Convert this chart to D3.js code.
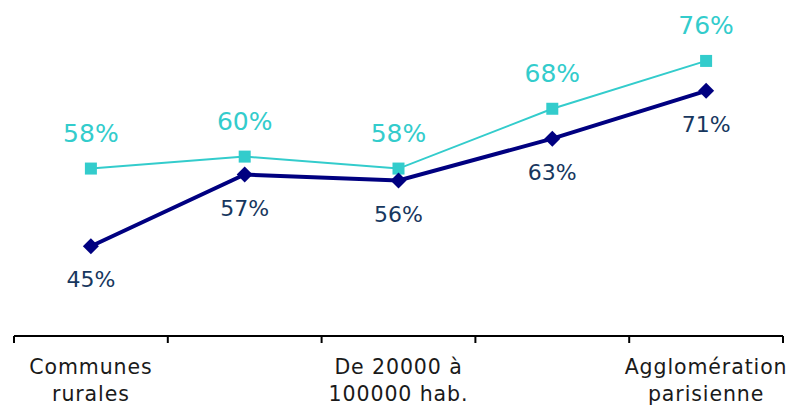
<!DOCTYPE html>
<html>
<head>
<meta charset="utf-8">
<script src="https://cdn.jsdelivr.net/npm/d3@7"></script>
<style>
body { margin: 0; background: #fff; }
svg { display: block; font-family: "DejaVu Sans", Verdana, sans-serif; }
</style>
</head>
<body>
<div id="chart"></div>
<script>
// categories (only 1st, 3rd and 5th labelled on the axis)
let categories = ["c1", "c2", "c3", "c4", "c5"];
let tick_labels = [["Communes", "rurales"], [], ["De 20000 à", "100000 hab."], [], ["Agglomération", "parisienne"]];
let serie_cyan = [58, 60, 58, 68, 76];
let serie_navy = [45, 57, 56, 63, 71];

let width = 796, height = 406;

let svg = d3.select("#chart").append("svg")
    .attr("width", width)
    .attr("height", height);

let x = d3.scaleBand().domain(categories).range([14, 783]);
let y = d3.scaleLinear().domain([30, 80]).range([336, 37]);

let cx = d => x(d) + x.bandwidth() / 2;

// axis
let axis = svg.append("g").attr("transform", "translate(0,336)");
axis.append("line")
    .attr("x1", 14).attr("x2", 783)
    .attr("stroke", "#000").attr("stroke-width", 2);
axis.selectAll("line.tick")
    .data(d3.range(categories.length + 1))
    .join("line")
    .attr("class", "tick")
    .attr("x1", i => 14 + i * x.step()).attr("x2", i => 14 + i * x.step())
    .attr("y1", 0).attr("y2", 7)
    .attr("stroke", "#000").attr("stroke-width", 2);

let lab = axis.selectAll("text.lab")
    .data(categories)
    .join("text")
    .attr("class", "lab")
    .attr("x", d => cx(d))
    .attr("y", 38)
    .attr("text-anchor", "middle")
    .attr("font-size", 20.5)
    .attr("letter-spacing", 0.9)
    .attr("fill", "#1a1a1a");
lab.selectAll("tspan")
    .data((d, i) => tick_labels[i])
    .join("tspan")
    .attr("x", function() { return this.parentNode.getAttribute("x"); })
    .attr("dy", (d, i) => i == 0 ? 0 : 27)
    .text(d => d);

let line = d3.line().x((d, i) => cx(categories[i])).y(d => y(d));

// cyan series
svg.append("path")
    .datum(serie_cyan)
    .attr("d", line)
    .attr("fill", "none")
    .attr("stroke", "#33cccc")
    .attr("stroke-width", 2);

// navy series
svg.append("path")
    .datum(serie_navy)
    .attr("d", line)
    .attr("fill", "none")
    .attr("stroke", "#000080")
    .attr("stroke-width", 4);

svg.append("g").selectAll("rect")
    .data(serie_cyan)
    .join("rect")
    .attr("x", (d, i) => cx(categories[i]) - 6)
    .attr("y", d => y(d) - 6)
    .attr("width", 12).attr("height", 12)
    .attr("fill", "#33cccc");

svg.append("g").selectAll("path")
    .data(serie_navy)
    .join("path")
    .attr("d", d3.symbol(d3.symbolSquare, 128))
    .attr("transform", (d, i) => `translate(${cx(categories[i])},${y(d)}) rotate(45)`)
    .attr("fill", "#000080");

svg.append("g").selectAll("text")
    .data(serie_cyan)
    .join("text")
    .attr("x", (d, i) => cx(categories[i]))
    .attr("y", d => y(d) - 27)
    .attr("text-anchor", "middle")
    .attr("font-size", 25)
    .attr("fill", "#33cccc")
    .text(d => d + "%");

svg.append("g").selectAll("text")
    .data(serie_navy)
    .join("text")
    .attr("x", (d, i) => cx(categories[i]))
    .attr("y", d => y(d) + 41)
    .attr("text-anchor", "middle")
    .attr("font-size", 22)
    .attr("fill", "#17375e")
    .text(d => d + "%");
</script>
</body>
</html>
